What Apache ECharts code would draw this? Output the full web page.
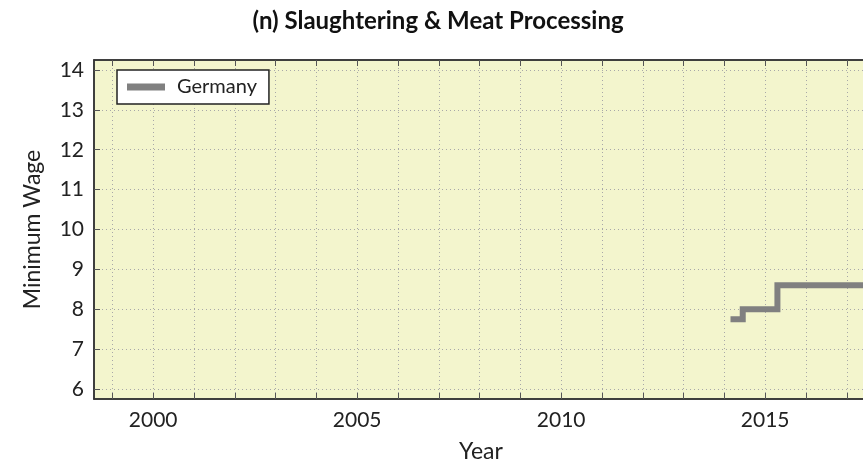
<!DOCTYPE html>
<html><head><meta charset="utf-8">
<script src="https://cdn.jsdelivr.net/npm/echarts@6/dist/echarts.min.js"></script>
<style>html,body{margin:0;padding:0;background:#fff}#c{width:863px;height:465px}</style>
</head><body><div id="c"></div>
<script>
const titleText = '(n) Slaughtering & Meat Processing';
const seriesName = 'Germany';
const years = [2014.15, 2014.45, 2015.3, 2018.0];
const wages = [7.75, 8.0, 8.6, 8.6];
const xTickYears = [1999, 2000, 2001, 2002, 2003, 2004, 2005, 2006, 2007, 2008, 2009, 2010, 2011, 2012, 2013, 2014, 2015, 2016, 2017];
const xLabelYears = [2000, 2005, 2010, 2015];
const yTicks = [6, 7, 8, 9, 10, 11, 12, 13, 14];

const FONT = 'Lato';
const data = years.map((y, i) => [y, wages[i]]);
const chart = echarts.init(document.getElementById('c'), null, {renderer: 'canvas'});
const xMin = 1998.55, xMax = 2017.52, yMin = 5.75, yMax = 14.25;
const axisLineStyle = {color: '#333', width: 1.5};
const tickStyle = {show: true, inside: true, length: 6, lineStyle: {color: '#555'}};
const gridLine = {show: true, lineStyle: {color: '#a8a8a8', type: [1, 3], width: 1}};
chart.setOption({
  animation: false,
  backgroundColor: '#fff',
  title: {text: titleText, left: 433, textAlign: 'center', top: 4,
    textStyle: {fontFamily: FONT, fontSize: 24, fontWeight: 'bold', color: '#111'}},
  grid: {left: 94, top: 60, width: 774, height: 339, show: true, outerBoundsMode: 'none',
    backgroundColor: '#f3f5cd', borderColor: '#333', borderWidth: 1.5, containLabel: false},
  legend: {left: 117, top: 70, orient: 'vertical', backgroundColor: '#fff',
    borderColor: '#222', borderWidth: 1.5, borderRadius: 0, padding: [7, 12, 7, 10],
    icon: 'rect', itemWidth: 38, itemHeight: 7,
    textStyle: {fontFamily: FONT, fontSize: 20, color: '#222', padding: [0, 0, 0, 7]},
    data: [seriesName]},
  xAxis: [{type: 'value', min: xMin, max: xMax, position: 'bottom',
    name: 'Year', nameLocation: 'middle', nameGap: 41,
    nameTextStyle: {fontFamily: FONT, fontSize: 23, color: '#222'},
    axisLine: {show: true, lineStyle: axisLineStyle},
    axisTick: Object.assign({customValues: xTickYears}, tickStyle),
    axisLabel: {fontFamily: FONT, fontSize: 21, color: '#222', margin: 11,
      customValues: xLabelYears, formatter: v => String(v)},
    splitLine: gridLine},
    {type: 'value', min: xMin, max: xMax, position: 'top',
    axisLine: {show: true, lineStyle: axisLineStyle},
    axisTick: Object.assign({customValues: xTickYears}, tickStyle),
    axisLabel: {show: false}, splitLine: {show: false}}],
  yAxis: [{type: 'value', min: yMin, max: yMax,
    name: 'Minimum Wage', nameLocation: 'middle', nameGap: 50, nameRotate: 90,
    nameTextStyle: {fontFamily: FONT, fontSize: 23, color: '#222'},
    axisLine: {show: true, lineStyle: axisLineStyle},
    axisTick: Object.assign({customValues: yTicks}, tickStyle),
    axisLabel: {fontFamily: FONT, fontSize: 21, color: '#222', margin: 10,
      customValues: yTicks, formatter: v => String(v)},
    splitLine: gridLine}],
  series: [{name: seriesName, type: 'line', step: 'end', data: data,
    xAxisIndex: 0, yAxisIndex: 0, showSymbol: false, symbol: 'none',
    lineStyle: {color: '#808080', width: 6, cap: 'butt', join: 'miter'},
    itemStyle: {color: '#808080'}, clip: true}]
});
</script></body></html>
